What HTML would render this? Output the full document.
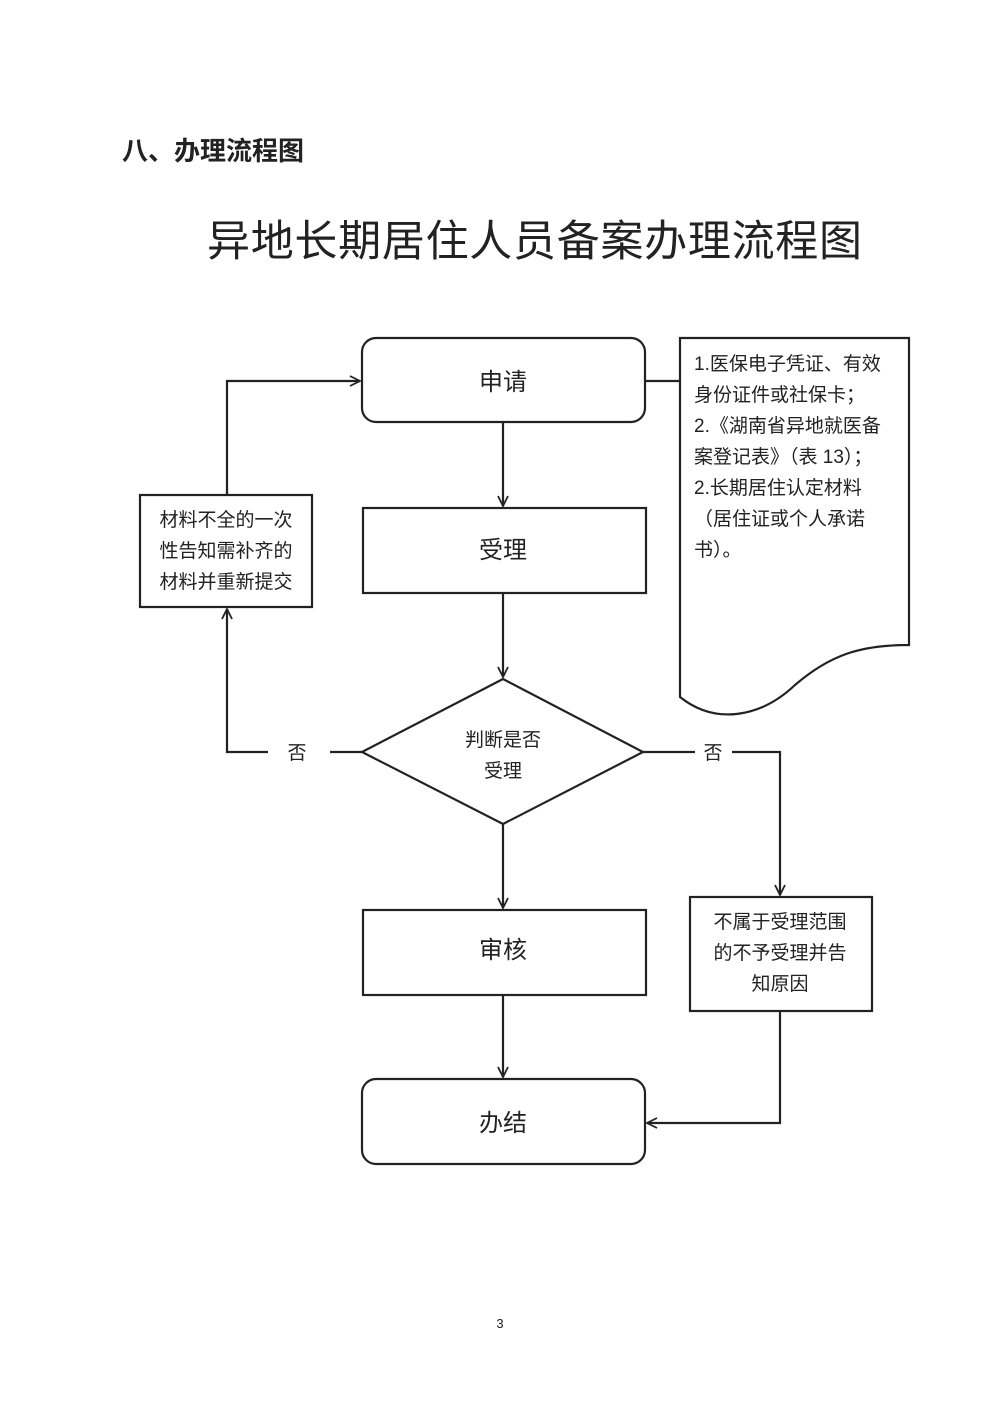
<!DOCTYPE html>
<html><head><meta charset="utf-8"><style>
body{margin:0;background:#fff;}
svg{display:block}
text{font-family:"Liberation Sans","Noto Sans CJK SC",sans-serif;fill:#222}
</style></head><body>
<svg width="1000" height="1414" viewBox="0 0 1000 1414" xmlns="http://www.w3.org/2000/svg">
<defs><marker id="a" viewBox="0 0 12 12" refX="11" refY="6" markerWidth="12" markerHeight="12" markerUnits="userSpaceOnUse" orient="auto"><path d="M1,1 L11,6 L1,11" fill="none" stroke="#222" stroke-width="1.8"/></marker></defs>
<text x="122" y="160" font-size="26" font-weight="bold" fill="#000">八、办理流程图</text>
<text x="207" y="256" font-size="43" textLength="655" lengthAdjust="spacing" fill="#111">异地长期居住人员备案办理流程图</text>
<g fill="none" stroke="#222" stroke-width="2.2">
<rect x="362" y="338" width="283" height="84" rx="14"/>
<rect x="363" y="508" width="283" height="85"/>
<path d="M362,752 L503,679 L643,752 L503,824 Z"/>
<rect x="363" y="910" width="283" height="85"/>
<rect x="362" y="1079" width="283" height="85" rx="14"/>
<rect x="140" y="495" width="172" height="112"/>
<rect x="690" y="897" width="182" height="114"/>
<path d="M680,338 L909,338 L909,645 C860,645 830,655 795,685 C760,718 715,725 680,697 Z"/>
<path d="M645,381 L680,381"/>
<path d="M503,422 L503,506" marker-end="url(#a)"/>
<path d="M503,593 L503,677" marker-end="url(#a)"/>
<path d="M503,824 L503,908" marker-end="url(#a)"/>
<path d="M503,995 L503,1077" marker-end="url(#a)"/>
<path d="M362,752 L330,752"/>
<path d="M268,752 L227,752 L227,609" marker-end="url(#a)"/>
<path d="M227,495 L227,381 L360,381" marker-end="url(#a)"/>
<path d="M643,752 L695,752"/>
<path d="M732,752 L780,752 L780,895" marker-end="url(#a)"/>
<path d="M780,1011 L780,1123 L647,1123" marker-end="url(#a)"/>
</g>
<g font-size="24" text-anchor="middle">
<text x="503" y="390">申请</text>
<text x="503" y="558">受理</text>
<text x="503" y="958">审核</text>
<text x="503" y="1131">办结</text>
</g>
<g font-size="19" text-anchor="middle">
<text x="503" y="746">判断是否</text>
<text x="503" y="777">受理</text>
<text x="297" y="759">否</text>
<text x="713" y="759">否</text>
<text x="226" y="526">材料不全的一次</text>
<text x="226" y="557">性告知需补齐的</text>
<text x="226" y="588">材料并重新提交</text>
<text x="780" y="928">不属于受理范围</text>
<text x="780" y="959">的不予受理并告</text>
<text x="780" y="990">知原因</text>
</g>
<g font-size="19">
<text x="694" y="370">1.医保电子凭证、有效</text>
<text x="694" y="401">身份证件或社保卡；</text>
<text x="694" y="432">2.《湖南省异地就医备</text>
<text x="694" y="463">案登记表》（表 13）；</text>
<text x="694" y="494">2.长期居住认定材料</text>
<text x="694" y="525">（居住证或个人承诺</text>
<text x="694" y="556">书）。</text>
</g>
<text x="500" y="1328" font-size="13" text-anchor="middle" font-family="Liberation Serif,serif">3</text>
</svg>
</body></html>
